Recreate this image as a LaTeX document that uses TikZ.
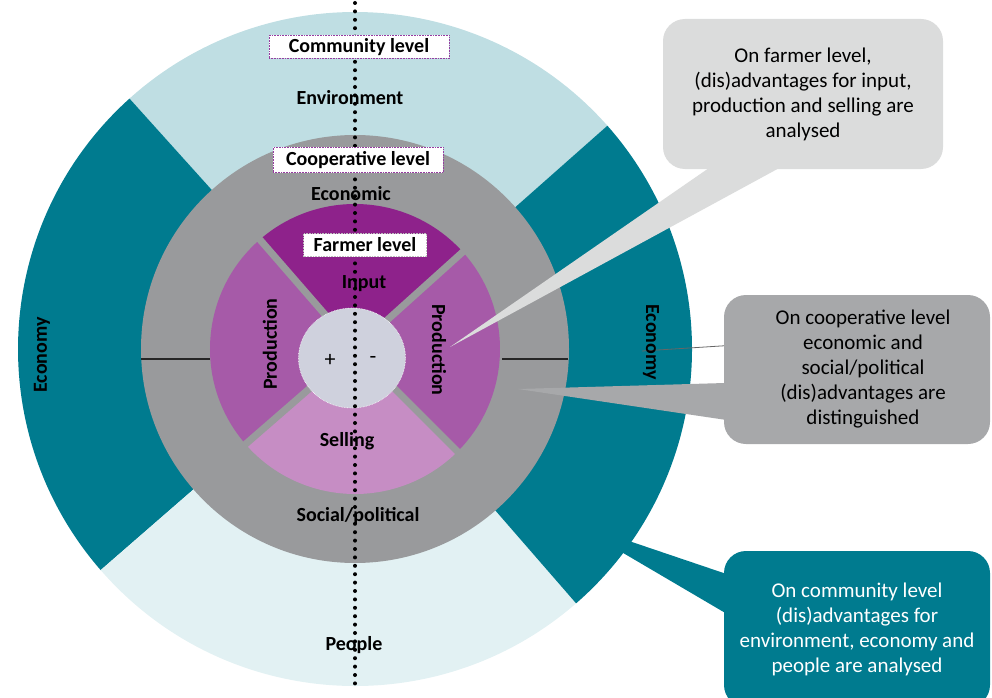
\documentclass[tikz,border=0pt]{standalone}
\usepackage{fontspec}
\setmainfont{Carlito}
\usetikzlibrary{calc,shapes.geometric}
\definecolor{envcolor}{RGB}{191,222,227}
\definecolor{peocolor}{RGB}{226,241,243}
\definecolor{ecocolor}{RGB}{0,123,143}
\definecolor{coopcolor}{RGB}{153,154,156}
\definecolor{inpcolor}{RGB}{142,34,139}
\definecolor{prodcolor}{RGB}{166,90,168}
\definecolor{sellcolor}{RGB}{198,141,196}
\definecolor{pmcolor}{RGB}{207,209,221}
\definecolor{farmnotecolor}{RGB}{219,220,220}
\definecolor{coopnotecolor}{RGB}{167,168,170}
\definecolor{levelborder}{RGB}{150,60,160}
\def\Rcomm{337}
\def\Rcoop{214}
\def\Rfarm{145}
\tikzset{
  seglabel/.style = {font=\bfseries\fontsize{20bp}{22bp}\selectfont, inner sep=0pt},
  levelbox/.style = {seglabel, draw=levelborder, densely dotted, line width=0.6pt,
                     fill=white, minimum height=23bp},
  pmlabel/.style  = {font=\fontsize{22bp}{24bp}\selectfont, inner sep=0pt},
  note/.style     = {rounded corners=22bp, inner sep=0pt, align=center,
                     font=\fontsize{21bp}{25bp}\selectfont},
  gapline/.style  = {draw=coopcolor, line width=7bp},
  ringline/.style = {draw=black!85, line width=1.4bp},
  axisdots/.style = {line width=4bp, line cap=round, dash pattern=on 0bp off 8.4bp}
}

\begin{document}
\begin{tikzpicture}[x=1bp,y=1bp]
\useasboundingbox (0,0) rectangle (992,-698);
\coordinate (C) at (355,-349);

% --- community level: outer ring ---
\foreach \a/\b/\col in {41.5/132/envcolor, 132/221/ecocolor, 221/311/peocolor, 311/401.5/ecocolor}{
  \fill[\col] (C) -- ($(C)+(\a:\Rcomm)$) arc[start angle=\a, end angle=\b, radius=\Rcomm] -- cycle;
}

% --- cooperative level ---
\fill[coopcolor] (C) circle[radius=\Rcoop];
\draw[ringline] ($(C)+(-\Rcoop,-10)$) -- ($(C)+(-\Rfarm,-10)$);
\draw[ringline] ($(C)+(\Rfarm+2,-10)$) -- ($(C)+(\Rcoop-1,-10)$);

% --- farmer level ---
\foreach \a/\b/\col in {42/131/inpcolor, 131/221/prodcolor, 221/315/sellcolor, 315/402/prodcolor}{
  \fill[\col] (C) -- ($(C)+(\a:\Rfarm)$) arc[start angle=\a, end angle=\b, radius=\Rfarm] -- cycle;
}
\foreach \a in {42,131,221,315}{
  \draw[gapline] (C) -- ++(\a:\Rfarm+3);
}
\node[ellipse, fill=pmcolor, draw=white, densely dotted, line width=0.6pt,
      minimum width=107bp, minimum height=100bp, inner sep=0pt] (pm) at (352,-358) {};

% --- callouts ---
\node[note, fill=farmnotecolor, minimum width=280bp, minimum height=150bp] (farmnote) at (803,-94)
  {On farmer level,\\(dis)advantages for input,\\production and selling are\\analysed};
\node[note, fill=coopnotecolor, minimum width=266bp, minimum height=149bp] (coopnote) at (857,-369.5)
  {\hspace*{12bp}On cooperative level\\\hspace*{12bp}economic and\\\hspace*{12bp}social/political\\\hspace*{12bp}(dis)advantages are\\\hspace*{12bp}distinguished};
\node[note, fill=ecocolor, text=white, minimum width=266bp, minimum height=156bp] (commnote) at (857,-629)
  {On community level\\(dis)advantages for\\environment, economy and\\people are analysed};

\coordinate (farmtip) at (450,-347);
\coordinate (cooptip) at (518,-389);
\coordinate (commtip) at (567,-520);
\coordinate (econote) at (642,-351);
\fill[farmnotecolor] (farmtip) -- ($(farmnote.south west)+(56,8)$) -- ($(farmnote.south west)+(129,8)$) -- cycle;
\fill[coopnotecolor] (cooptip) -- ($(coopnote.north west)+(8,-88)$) -- ($(coopnote.north west)+(8,-126)$) -- cycle;
\fill[ecocolor] (commtip) -- ($(commnote.north west)+(8,-25)$) -- ($(commnote.north west)+(8,-66)$) -- cycle;
\draw[black!60, line width=0.8bp] ($(coopnote.north west)+(0,-51)$) -- (econote);

% --- dotted axis ---
\coordinate (axtop) at (355,-3);
\coordinate (axbot) at (355,-690);
\draw[axisdots] (axtop) -- (axbot);

% --- segment labels ---
\node[seglabel] (env) at (350,-98) {Environment};
\node[seglabel] (peo) at (354,-645) {People};
\node[seglabel, rotate=90] (ecoleft) at (42,-355) {Economy};
\node[seglabel, rotate=-90] (ecoright) at (651,-342) {Economy};
\node[seglabel] (econ) at (351,-194) {Economic};
\node[seglabel] (soc) at (358,-516) {Social/political};
\node[seglabel] (inp) at (364,-284) {Input};
\node[seglabel] (sell) at (347,-441) {Selling};
\node[seglabel, rotate=90] (prodleft) at (270,-344) {Production};
\node[seglabel, rotate=-90] (prodright) at (439,-350) {Production};
\node[pmlabel] (plus) at (330,-360) {+};
\node[pmlabel] (minus) at (373,-360) {-};

% --- level boxes ---
\node[levelbox, minimum width=180bp] (commlevel) at (359,-47) {Community level};
\node[levelbox, minimum width=170bp, minimum height=25bp] (cooplevel) at (358,-160) {Cooperative level};
\node[levelbox, draw=black!25, minimum width=123bp] (farmlevel) at (365,-245) {Farmer level};

\end{tikzpicture}
\end{document}
